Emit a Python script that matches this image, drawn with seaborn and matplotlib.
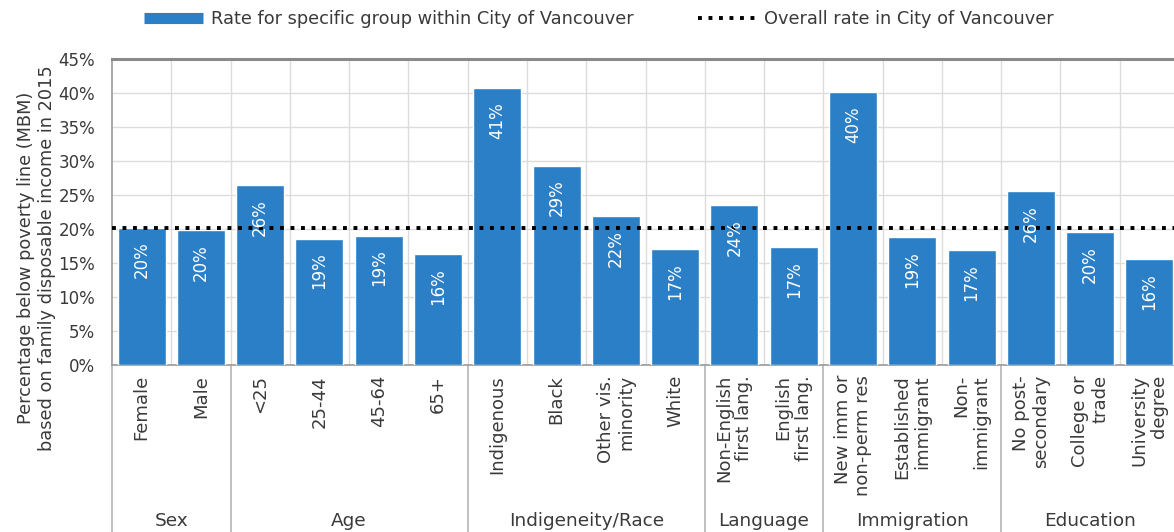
import matplotlib
matplotlib.use("Agg")
import matplotlib.pyplot as plt
import matplotlib.transforms as mtransforms
from matplotlib.lines import Line2D
import seaborn as sns
import pandas as pd

categories = ["Female", "Male", "<25", "25-44", "45-64", "65+",
              "Indigenous", "Black", "Other vis.\nminority", "White",
              "Non-English\nfirst lang.", "English\nfirst lang.",
              "New imm or\nnon-perm res", "Established\nimmigrant", "Non-\nimmigrant",
              "No post-\nsecondary", "College or\ntrade", "University\ndegree"]
values = [20.2, 19.8, 26.4, 18.6, 19.0, 16.3,
          40.7, 29.3, 21.9, 17.0,
          23.5, 17.3,
          40.1, 18.8, 16.9,
          25.6, 19.5, 15.6]
value_labels = ["20%", "20%", "26%", "19%", "19%", "16%",
                "41%", "29%", "22%", "17%",
                "24%", "17%",
                "40%", "19%", "17%",
                "26%", "20%", "16%"]
groups = ["Sex", "Age", "Indigeneity/Race", "Language", "Immigration", "Education"]
group_sizes = [2, 4, 4, 2, 3, 3]
overall_rate = 20.1
yticks = [0, 5, 10, 15, 20, 25, 30, 35, 40, 45]

BLUE = "#2b7fc7"
TXT = "#3a3a3a"
GRID = "#dcdcdc"
DOTS = (0, (1, 1.7))

sns.set_theme(style="white")
plt.rcParams["font.family"] = ["DejaVu Sans"]

W, H = 1174, 532
fig = plt.figure(figsize=(W / 100, H / 100), dpi=100)
left, right, top, bottom = 112, 1179, 59, 365
ax = fig.add_axes([left / W, 1 - bottom / H, (right - left) / W, (bottom - top) / H])

df = pd.DataFrame({"cat": categories, "val": values})
sns.barplot(data=df, x="cat", y="val", color=BLUE, width=0.81, saturation=1,
            ax=ax, zorder=3)

ax.set_xlim(-0.5, len(categories) - 0.5)
ax.set_ylim(0, 45)
ax.set_yticks(yticks)
ax.set_yticklabels([f"{t}%" for t in yticks], fontsize=12, color=TXT)
ax.tick_params(axis="y", length=0, pad=12)
ax.set_xticks([i + 0.5 for i in range(len(categories) - 1)], minor=True)
ax.set_xticks([])
ax.grid(False)
ax.yaxis.grid(True, color=GRID, linewidth=1, zorder=0)
ax.xaxis.grid(True, which="minor", color=GRID, linewidth=1, zorder=0)
ax.tick_params(axis="x", which="both", length=0)
ax.set_xlabel("")
ax.set_ylabel("Percentage below poverty line (MBM)\nbased on family disposable income in 2015",
              fontsize=12.8, color=TXT, linespacing=1.22)
ax.yaxis.set_label_coords(-0.0525, 0.35)

for s in ["left", "bottom"]:
    ax.spines[s].set_color("#9a9a9a")
    ax.spines[s].set_linewidth(1.2)
ax.spines["top"].set_color("#8a8a8a")
ax.spines["top"].set_linewidth(2.2)
ax.spines["right"].set_visible(False)

# overall rate dotted line
ax.axhline(overall_rate, color="black", linestyle=DOTS, linewidth=2.8, zorder=5)

# value labels inside bars
for i, (v, lab) in enumerate(zip(values, value_labels)):
    ax.annotate(lab, xy=(i, v), xytext=(0, -10), textcoords="offset points",
                rotation=90, ha="center", va="top", color="white", fontsize=12, zorder=6)

# category labels below axis
trans = mtransforms.blended_transform_factory(ax.transData, ax.transAxes)
off = mtransforms.offset_copy(trans, fig=fig, x=0, y=-10, units="dots")
for i, c in enumerate(categories):
    ax.text(i, 0, c, transform=off, rotation=90, ha="center", va="top",
            multialignment="right", fontsize=13, color=TXT, linespacing=1.15)

# group separators and labels
axes_h = bottom - top
y_bot = -(H - bottom) / axes_h
y_grp = -(521 - bottom) / axes_h
start = 0
bounds = [-0.5]
for g, n in zip(groups, group_sizes):
    end = start + n
    bounds.append(end - 0.5)
    ax.text((start + end - 1) / 2, y_grp, g, transform=trans, ha="center", va="center",
            fontsize=13.3, color=TXT)
    start = end
for b in bounds:
    ax.plot([b, b], [0, y_bot], transform=trans, color="#b5b5b5", linewidth=1.2,
            clip_on=False, zorder=1)

# legend
handles = [Line2D([0], [0], color=BLUE, linewidth=8, solid_capstyle="butt"),
           Line2D([0], [0], color="black", linestyle=DOTS, linewidth=2.8)]
labels = ["Rate for specific group within City of Vancouver", "Overall rate in City of Vancouver"]
leg = fig.legend(handles, labels, ncol=2, loc="center", bbox_to_anchor=(599 / W, 1 - 19 / H),
                 frameon=False, handlelength=3.3, handletextpad=0.45, columnspacing=3.6,
                 fontsize=12.8)
for t in leg.get_texts():
    t.set_color(TXT)

fig.savefig("out.png", dpi=100)
